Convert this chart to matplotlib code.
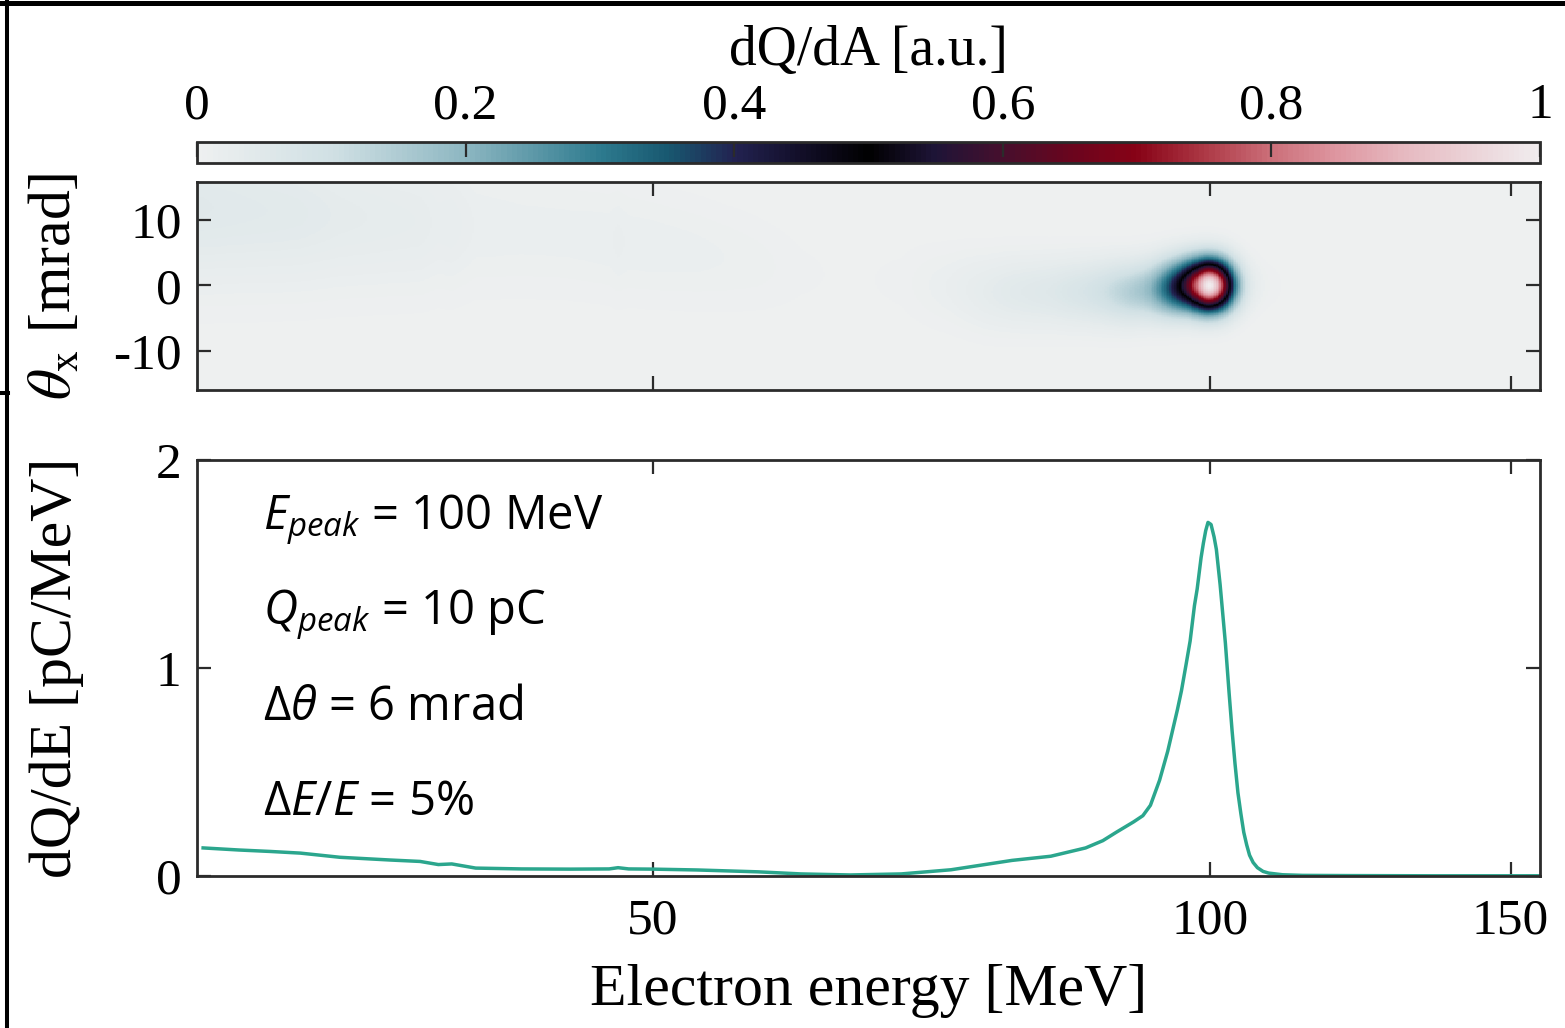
import numpy as np
import matplotlib
matplotlib.use("Agg")
import matplotlib.pyplot as plt
from matplotlib.colors import LinearSegmentedColormap
from matplotlib.lines import Line2D

# electron spectrum
energy = [30, 31.2, 32.3, 33.4, 34.9, 36.9, 38.2, 39.0, 39.6, 40.7, 42.9,
          45.4, 47.5, 48.0, 48.6, 50.0, 52.7, 56.7, 59.7, 63.4, 67.5, 71.8,
          77.5, 81.4, 85.1, 87.0, 88.5, 90.5, 91.6, 92.5, 93.6, 94.6, 95.8,
          96.3, 96.9, 97.4, 97.95, 98.3, 98.8, 99.1, 99.4, 99.7, 100.1,
          100.5, 100.8, 101.3, 101.7, 102.0, 102.5, 102.9, 103.3, 103.7,
          104.1, 104.5, 104.9, 105.3, 105.8, 106.4, 107.2, 108.0, 110.0,
          113.0, 120, 135, 156]
dqde = [0.135, 0.125, 0.118, 0.11, 0.09, 0.077, 0.07, 0.055, 0.058, 0.038,
        0.034, 0.033, 0.034, 0.040, 0.034, 0.033, 0.029, 0.02, 0.01, 0.005,
        0.01, 0.03, 0.075, 0.095, 0.135, 0.17, 0.21, 0.26, 0.29, 0.34, 0.46,
        0.60, 0.80, 0.89, 1.02, 1.13, 1.30, 1.38, 1.53, 1.60, 1.66, 1.70,
        1.69, 1.63, 1.57, 1.40, 1.24, 1.12, 0.88, 0.70, 0.54, 0.40, 0.30,
        0.21, 0.15, 0.10, 0.065, 0.04, 0.022, 0.014, 0.006, 0.003, 0.002,
        0.001, 0.001]

# angular centroid / rms spread along the energy axis (upper panel)
div_energy = [30, 45, 60, 75, 90, 97, 100, 156]
div_center = [12, 8, 2, -1, -1, 0, 0, 0]
div_sigma = [8, 6.5, 5, 4, 3.2, 2.8, 2.7, 2.7]
haze_scale = [0.6, 0.7, 0.85, 1.0, 1.0, 1.0, 1.0, 1.0]

cbar_ticks = [0, 0.2, 0.4, 0.6, 0.8, 1]
cbar_labels = ["0", "0.2", "0.4", "0.6", "0.8", "1"]
theta_ticks = [-10, 0, 10]
e_ticks = [50, 100, 150]
q_ticks = [0, 1, 2]

cmap_pos = [0.0, 0.1, 0.2, 0.3, 0.35, 0.4, 0.45, 0.5, 0.55, 0.6, 0.65,
            0.7, 0.75, 0.8, 0.85, 0.9, 1.0]
cmap_rgb = [(238, 240, 240), (208, 224, 228), (140, 182, 193),
            (45, 122, 142), (24, 88, 112), (34, 34, 80), (18, 14, 40),
            (0, 0, 0), (30, 20, 55), (70, 15, 45), (105, 5, 30),
            (135, 2, 22), (172, 55, 68), (203, 110, 120), (222, 150, 160),
            (230, 185, 192), (240, 236, 238)]

annotations = [r"$E_{peak}$ = 100 MeV", r"$Q_{peak}$ = 10 pC",
               r"$\Delta\theta$ = 6 mrad", r"$\mathit{\Delta E/E}$ = 5%"]

plt.rcParams["font.family"] = "Liberation Serif"
plt.rcParams["mathtext.fontset"] = "custom"
plt.rcParams["mathtext.rm"] = "Open Sans"
plt.rcParams["mathtext.it"] = "Open Sans:italic"

W, H = 1565, 1028
fig = plt.figure(figsize=(W / 100, H / 100), dpi=100)


def px(x0, y0, x1, y1):
    return [x0 / W, 1 - y1 / H, (x1 - x0) / W, (y1 - y0) / H]


cax = fig.add_axes(px(197, 142, 1540, 163))
ax1 = fig.add_axes(px(197, 182, 1540, 390))
ax2 = fig.add_axes(px(197, 460, 1540, 876))


def fwd(e):
    return -np.power(np.maximum(e, 1e-3), -0.15)


def inv(u):
    return np.power(np.maximum(-u, 1e-9), -1 / 0.15)


emin, emax = 29.8, 156.3
cmap = LinearSegmentedColormap.from_list(
    "dqda", list(zip(cmap_pos, [tuple(c / 255 for c in rgb) for rgb in cmap_rgb])))

# upper panel image built from the spectrum and the divergence
u_edges = np.linspace(fwd(emin), fwd(emax), 801)
e_edges = inv(u_edges)
e_mid = inv(0.5 * (u_edges[1:] + u_edges[:-1]))
t_edges = np.linspace(-16, 16, 321)
t_mid = 0.5 * (t_edges[1:] + t_edges[:-1])
spec = np.interp(e_mid, energy, dqde)
cen = np.interp(e_mid, div_energy, div_center)
sig = np.interp(e_mid, div_energy, div_sigma)
amp = np.interp(e_mid, div_energy, haze_scale)
img = amp[None, :] * spec[None, :] / spec.max() * np.exp(
    -(t_mid[:, None] - cen[None, :]) ** 2 / (2 * sig[None, :] ** 2))

for ax in (ax1, ax2):
    ax.set_xscale("function", functions=(fwd, inv))
    ax.set_xlim(emin, emax)
    ax.set_xticks(e_ticks)
    for s in ax.spines.values():
        s.set_linewidth(2)
        s.set_color("#2b2b2b")
    ax.tick_params(direction="in", length=10, width=1.6, color="#2b2b2b",
                   top=True, right=True, labelsize=37, pad=11)
    ax.minorticks_off()

mesh = ax1.pcolormesh(e_edges, t_edges, img, cmap=cmap, vmin=0, vmax=1,
                      shading="flat", rasterized=True)
ax1.set_ylim(-16, 15.8)
ax1.set_yticks(theta_ticks)
ax1.set_yticklabels([str(t) for t in theta_ticks])
ax1.tick_params(axis="x", labelbottom=False)
ax1.set_ylabel(r"$\theta_{\rm x}$ [mrad]", fontsize=43, math_fontfamily="stix")
ax1.yaxis.set_label_coords((84 - 197) / 1343, 0.5)

ax2.plot(energy, dqde, color="#2ba68d", lw=2.5)
ax2.set_ylim(0, 2)
ax2.set_yticks(q_ticks)
ax2.tick_params(axis="x", pad=16)
ax2.set_xlabel("Electron energy [MeV]", fontsize=43, labelpad=14)
ax2.set_ylabel("dQ/dE [pC/MeV]", fontsize=43)
ax2.yaxis.set_label_coords((84 - 197) / 1343, 0.5)

for i, txt in enumerate(annotations):
    fig.text(263 / W, 1 - (530 + 95 * i) / H, txt, fontsize=34,
             family="Open Sans", math_fontfamily="custom", va="baseline")

cb = fig.colorbar(mesh, cax=cax, orientation="horizontal", ticklocation="top")
cb.set_ticks(cbar_ticks)
cb.set_ticklabels(cbar_labels)
cb.outline.set_linewidth(2)
cb.outline.set_edgecolor("#2b2b2b")
cax.tick_params(direction="in", length=11, width=1.6, color="#2b2b2b",
                labelsize=37, pad=9)
cax.minorticks_off()
cb.set_label("dQ/dA [a.u.]", fontsize=40, labelpad=13)

# frame lines from the surrounding figure
fig.add_artist(Line2D([0, 1], [1 - 2.5 / H, 1 - 2.5 / H], color="black",
                      lw=3.6, transform=fig.transFigure))
fig.add_artist(Line2D([6.5 / W, 6.5 / W], [0, 1], color="black", lw=2.9,
                      transform=fig.transFigure))
fig.add_artist(Line2D([0, 8 / W], [1 - 393 / H, 1 - 393 / H], color="black",
                      lw=2.9, transform=fig.transFigure))

fig.savefig("out.png", dpi=100)
